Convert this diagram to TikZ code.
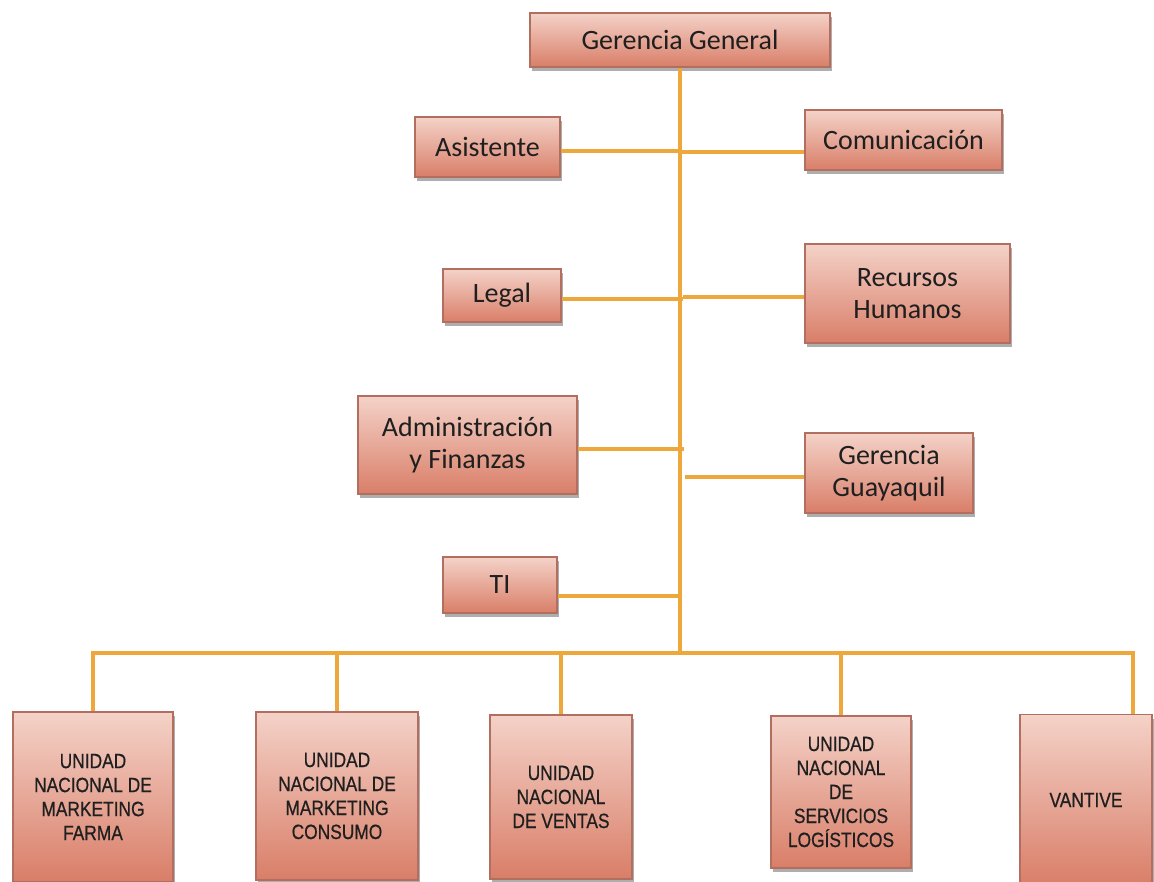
\documentclass[tikz,border=0pt]{standalone}
\usepackage{fontspec}
\setmainfont{Carlito}
\newfontfamily\narrowfont[FakeStretch=0.84,FakeBold=0.6]{Liberation Sans}
\usetikzlibrary{shadows}
\definecolor{lineor}{HTML}{EDA73A}
\definecolor{boxtop}{HTML}{F4D2C8}
\definecolor{boxbot}{HTML}{D97E68}
\definecolor{boxedge}{HTML}{B26E5E}
\tikzset{
  box/.style={draw=boxedge, line width=0.8pt, top color=boxtop, bottom color=boxbot,
    drop shadow={shadow xshift=1.2pt, shadow yshift=-3pt, opacity=0.45, fill=black!70},
    align=center, inner sep=2pt, font=\fontsize{21}{24}\selectfont, text=black!88},
  unit/.style={box, font=\narrowfont\fontsize{15.5}{18}\selectfont},
  link/.style={draw=lineor, line width=2.3pt},
}
\begin{document}
\begin{tikzpicture}[x=0.75pt,y=-0.75pt]
\useasboundingbox (0,0) rectangle (1154,882);
\clip (0,0) rectangle (1154,882);
\fill[white] (0,0) rectangle (1154,882);
% top boxes
\node[box, minimum width=225pt, minimum height=40.5pt] (gg) at (680,40) {Gerencia General};
\node[box, minimum width=108.75pt, minimum height=45pt] (asis) at (487.5,147) {Asistente};
\node[box, minimum width=147.75pt, minimum height=45pt] (com) at (903.5,140) {Comunicación};
\node[box, minimum width=88.5pt, minimum height=39.75pt] (legal) at (502,295.5) {Legal};
\node[box, minimum width=153.75pt, minimum height=74.25pt] (rh) at (907.5,293.5) {Recursos\\Humanos};
\node[box, minimum width=164.25pt, minimum height=73.5pt] (adm) at (467.5,445) {Administración\\y Finanzas};
\node[box, minimum width=126pt, minimum height=60pt] (gye) at (889,473) {Gerencia\\Guayaquil};
\node[box, minimum width=85.5pt, minimum height=42pt] (ti) at (500,585) {TI};
% bottom units
\node[unit, minimum width=120pt, minimum height=127.5pt] (farma) at (93,797) {UNIDAD\\NACIONAL DE\\MARKETING\\FARMA};
\node[unit, minimum width=121.5pt, minimum height=126pt] (cons) at (337,796) {UNIDAD\\NACIONAL DE\\MARKETING\\CONSUMO};
\node[unit, minimum width=106.5pt, minimum height=123pt] (vent) at (561,797) {UNIDAD\\NACIONAL\\DE VENTAS};
\node[unit, minimum width=105pt, minimum height=114pt] (log) at (841,792) {UNIDAD\\NACIONAL\\DE\\SERVICIOS\\LOGÍSTICOS};
\node[unit, minimum width=99pt, minimum height=128pt] (vant) at (1086,800) {VANTIVE};
% trunk and junctions
\coordinate (bus) at (675,653);
\coordinate (jal) at (680,151);
\coordinate (jar) at (680,152);
\coordinate (j2l) at (683,299);
\coordinate (j2r) at (683,297);
\coordinate (j3) at (684,449);
\coordinate (j4) at (685,477);
\coordinate (j5) at (681,596);
\coordinate (vdrop) at (1133,653);
\draw[link] (gg.south) -- (gg.south |- bus);
\draw[link] (asis.east |- jal) -- (jal);
\draw[link] (com.west |- jar) -- (jar);
\draw[link] (legal.east |- j2l) -- (j2l);
\draw[link] (rh.west |- j2r) -- (j2r);
\draw[link] (adm.east |- j3) -- (j3);
\draw[link] (gye.west |- j4) -- (j4);
\draw[link] (ti.east |- j5) -- (j5);
\draw[link] (farma.north) |- (vdrop) -- (vdrop |- vant.north);
\draw[link] (cons.north) -- (cons.north |- bus);
\draw[link] (vent.north) -- (vent.north |- bus);
\draw[link] (log.north) -- (log.north |- bus);
\end{tikzpicture}
\end{document}
